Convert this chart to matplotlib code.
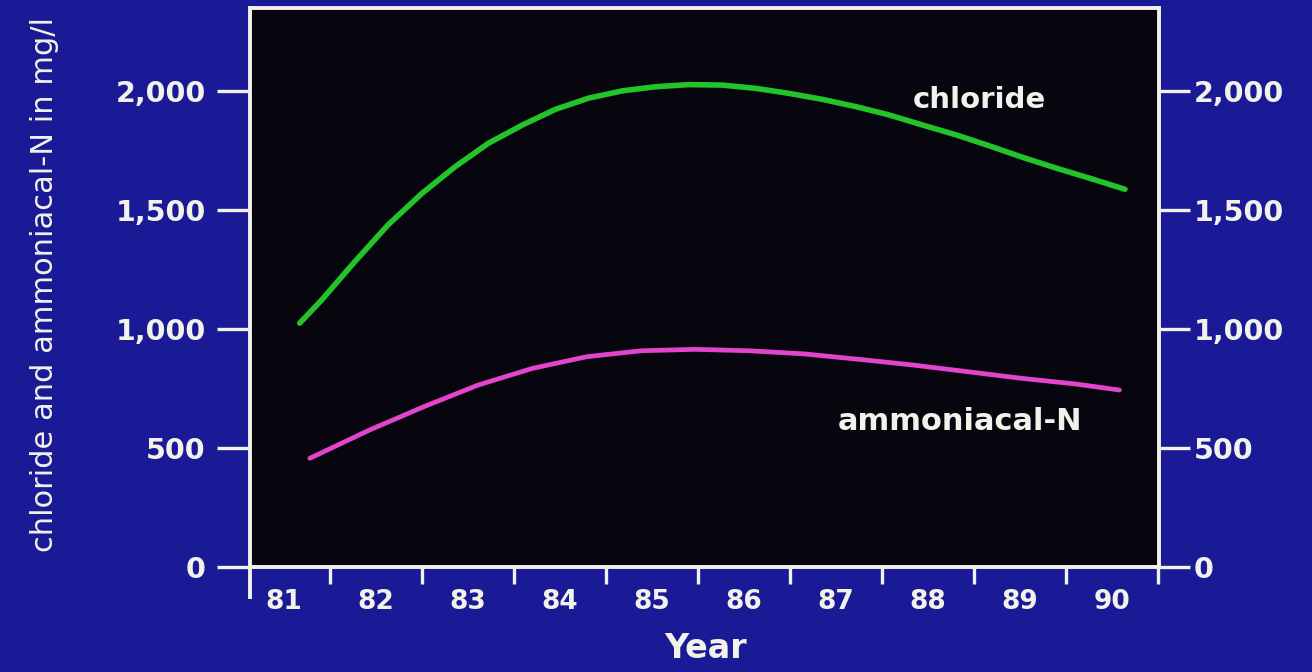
import matplotlib
matplotlib.use("Agg")
import matplotlib.pyplot as plt
from matplotlib.ticker import FixedLocator, NullFormatter, FixedFormatter

# ---- data ----
chloride_years = [81.17, 81.41, 81.77, 82.13, 82.50, 82.86, 83.22, 83.59,
                  83.95, 84.31, 84.68, 85.04, 85.40, 85.76, 86.13, 86.49,
                  86.85, 87.22, 87.58, 87.94, 88.31, 88.67, 89.03, 89.40,
                  89.76, 90.14]
chloride_vals = [1025, 1123, 1284, 1438, 1571, 1683, 1781, 1858,
                 1924, 1971, 2002, 2019, 2028, 2026, 2012, 1991,
                 1966, 1935, 1900, 1858, 1816, 1770, 1722, 1676,
                 1634, 1588]

ammonia_years = [81.28, 81.93, 82.52, 83.11, 83.70, 84.29, 84.88, 85.47,
                 86.06, 86.65, 87.25, 87.84, 88.43, 89.02, 89.61, 90.08]
ammonia_vals = [457, 576, 674, 765, 835, 884, 909, 915,
                909, 896, 873, 849, 821, 793, 769, 744]

year_labels = ["81", "82", "83", "84", "85", "86", "87", "88", "89", "90"]
year_positions = [81, 82, 83, 84, 85, 86, 87, 88, 89, 90]
year_boundaries = [81.5, 82.5, 83.5, 84.5, 85.5, 86.5, 87.5, 88.5, 89.5, 90.5]
y_ticks = [0, 500, 1000, 1500, 2000]
y_ticklabels = ["0", "500", "1,000", "1,500", "2,000"]

# ---- style ----
BG = "#1a1a96"
PLOT_BG = "#07060f"
WHITE = "#f2f2ea"
GREEN = "#22c42a"
PINK = "#e244cc"

plt.rcParams['font.family'] = ['DejaVu Sans']

fig = plt.figure(figsize=(13.12, 6.72), dpi=100, facecolor=BG)
ax = fig.add_axes([250/1312, 105/672, (1159-250)/1312, (567-8)/672])
ax.set_facecolor(PLOT_BG)

ax.plot(chloride_years, chloride_vals, color=GREEN, lw=4.0,
        solid_capstyle='round', solid_joinstyle='round')
ax.plot(ammonia_years, ammonia_vals, color=PINK, lw=3.4,
        solid_capstyle='round', solid_joinstyle='round')

ax.set_xlim(80.63, 90.51)
ax.set_ylim(0, 2350)

for s in ax.spines.values():
    s.set_color(WHITE)
    s.set_linewidth(2.8)

# x ticks: marks at boundaries, labels centred in each year
ax.xaxis.set_major_locator(FixedLocator(year_boundaries))
ax.xaxis.set_major_formatter(NullFormatter())
ax.xaxis.set_minor_locator(FixedLocator(year_positions))
ax.xaxis.set_minor_formatter(FixedFormatter(year_labels))
ax.tick_params(axis='x', which='major', direction='out', length=12,
               width=2.4, color=WHITE)
ax.tick_params(axis='x', which='minor', length=0, pad=16,
               labelsize=19, labelcolor=WHITE)
for lab in ax.get_xticklabels(minor=True):
    lab.set_fontweight('bold')

# left y ticks
ax.set_yticks(y_ticks)
ax.set_yticklabels(y_ticklabels)
ax.tick_params(axis='y', direction='out', length=24, width=2.4,
               color=WHITE, labelcolor=WHITE, labelsize=20.5, pad=8)
for lab in ax.get_yticklabels():
    lab.set_fontweight('bold')

# right y axis
ax2 = ax.twinx()
ax2.set_ylim(ax.get_ylim())
ax2.set_yticks(y_ticks)
ax2.set_yticklabels(y_ticklabels)
ax2.tick_params(axis='y', direction='out', length=22, width=2.4,
                color=WHITE, labelcolor=WHITE, labelsize=20.5, pad=3)
for lab in ax2.get_yticklabels():
    lab.set_fontweight('bold')
for s in ax2.spines.values():
    s.set_visible(False)

# extension of the left axis line below the frame
ax.plot([0, 0], [0, -32/559], transform=ax.transAxes, color=WHITE,
        lw=2.8, clip_on=False, solid_capstyle='butt')

# series labels
ax.text(88.56, 1963, "chloride", color=WHITE, fontsize=21,
        fontweight='bold', ha='center', va='center')
ax.text(88.35, 610, "ammoniacal-N", color=WHITE, fontsize=22,
        fontweight='bold', ha='center', va='center')

# axis titles
fig.text(706/1312, 1 - 648/672, "Year", color=WHITE, fontsize=24,
         fontweight='bold', ha='center', va='center')
fig.text(45/1312, 1 - 285/672, "chloride and ammoniacal-N in mg/l",
         color=WHITE, fontsize=22, rotation=90, ha='center', va='center')

fig.savefig("out.png", dpi=100, facecolor=BG)
